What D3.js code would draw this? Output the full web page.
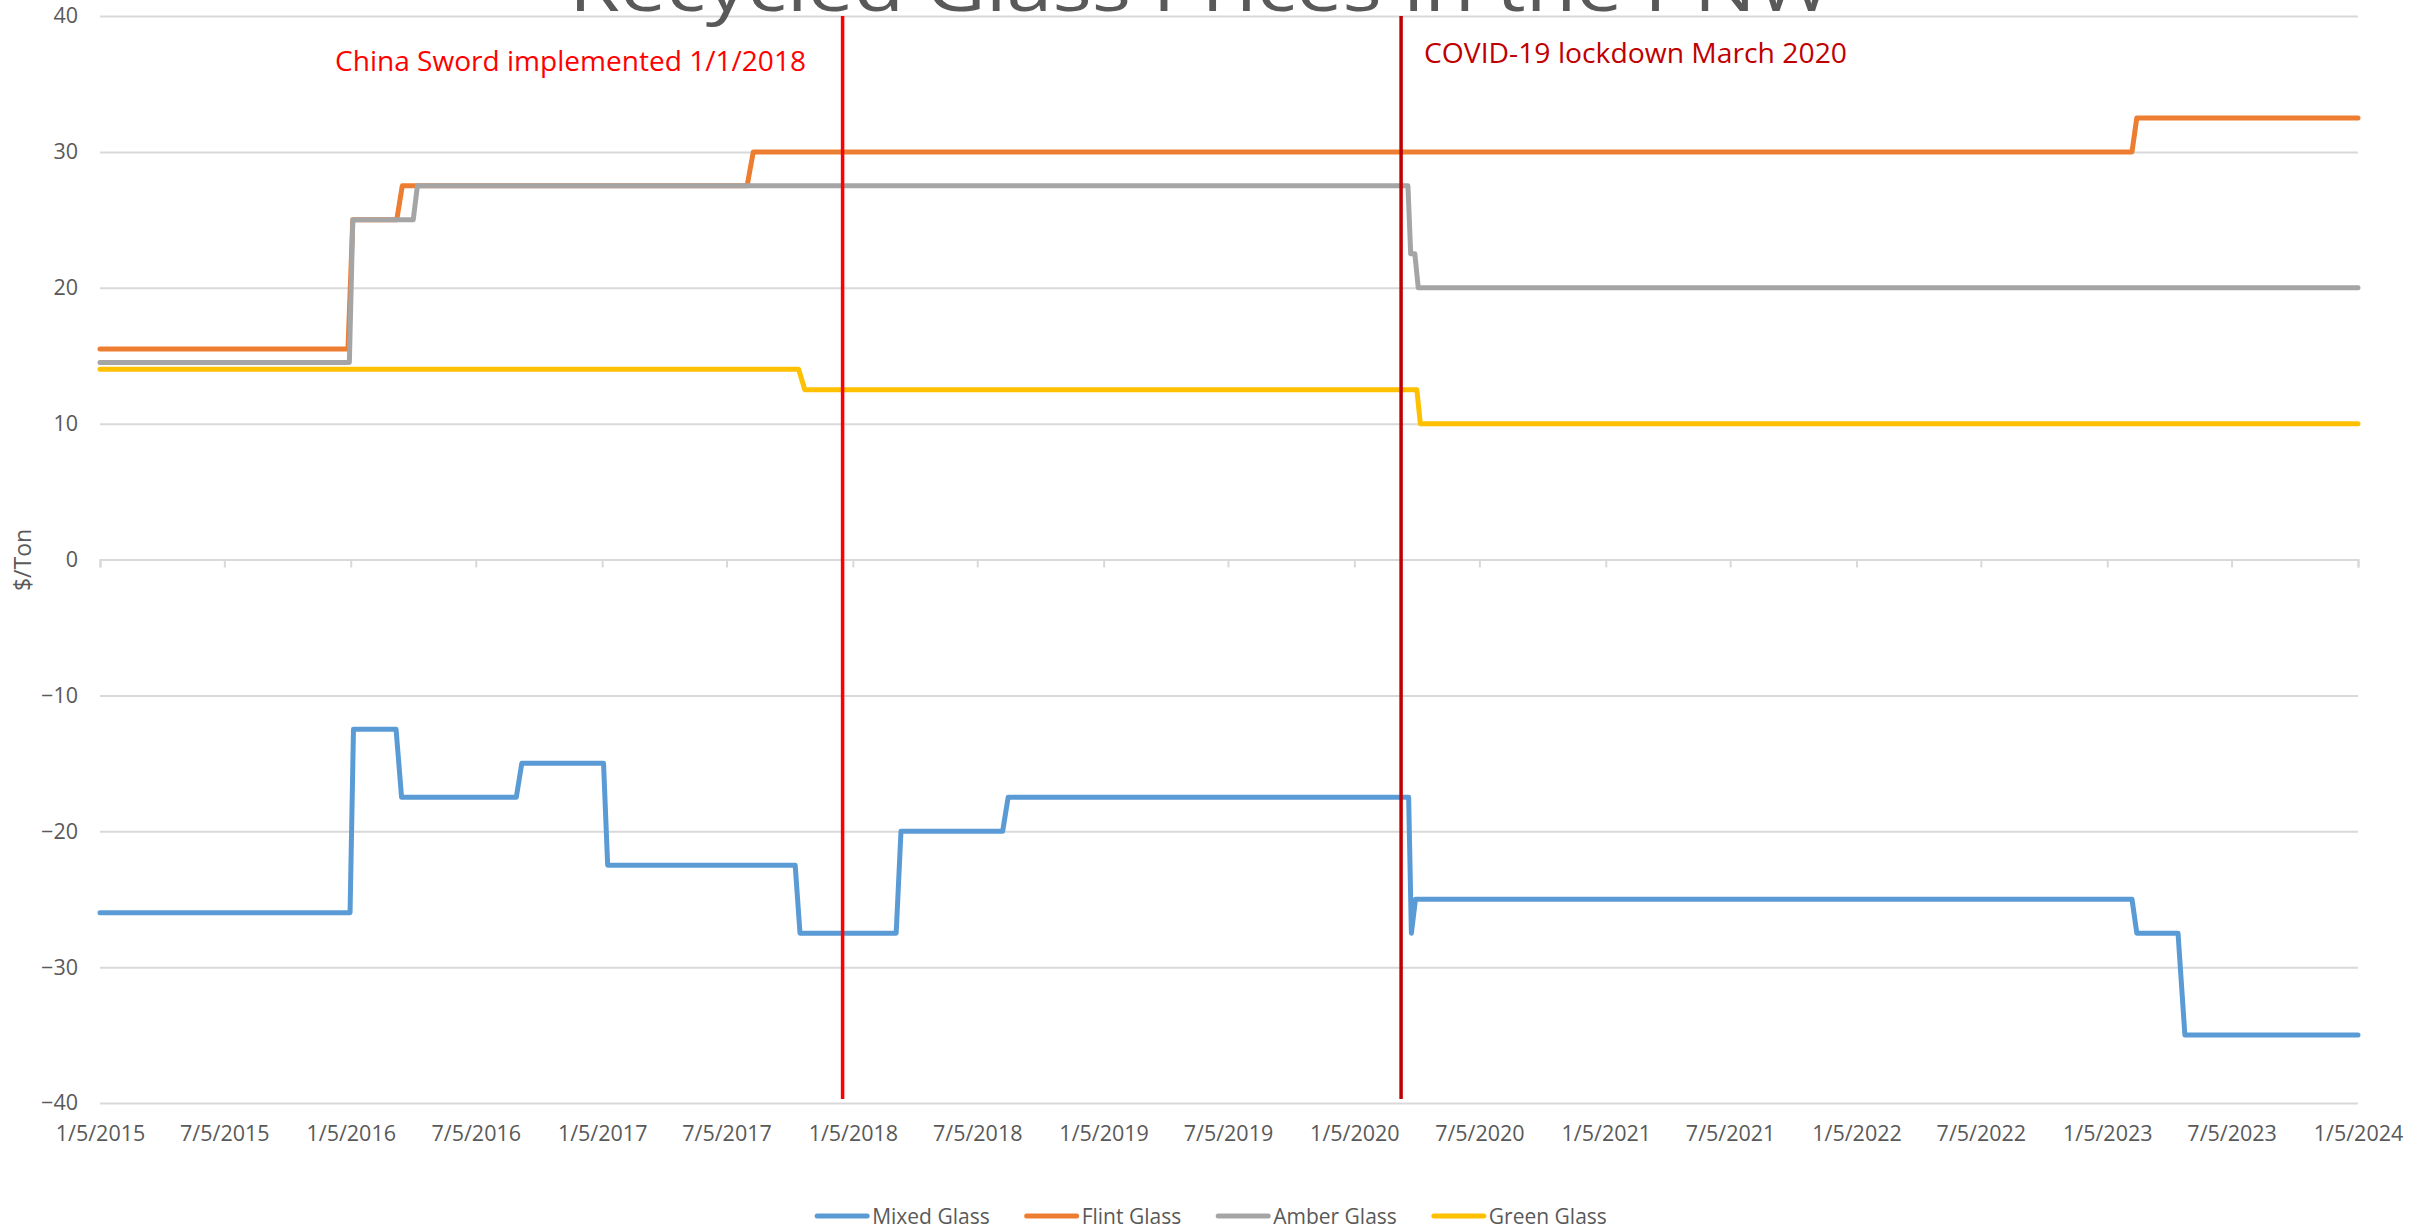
<!DOCTYPE html>
<html>
<head>
<meta charset="utf-8">
<script src="https://cdn.jsdelivr.net/npm/d3@7"></script>
<style>
  html, body { margin: 0; padding: 0; background: #fff; }
  svg { display: block; }
  text { font-family: "Open Sans", "Noto Sans", "DejaVu Sans", sans-serif; }
</style>
</head>
<body>
<script>
// ---------------- data ----------------
const chartTitle = "Recycled Glass Prices in the PNW";
const yAxisTitle = "$/Ton";
const seriesNames = ["Mixed Glass", "Flint Glass", "Amber Glass", "Green Glass"];
const seriesColors = ["#5B9BD5", "#ED7D31", "#A5A5A5", "#FFC000"];

const xTickLabels = ["1/5/2015","7/5/2015","1/5/2016","7/5/2016","1/5/2017","7/5/2017","1/5/2018","7/5/2018",
  "1/5/2019","7/5/2019","1/5/2020","7/5/2020","1/5/2021","7/5/2021","1/5/2022","7/5/2022","1/5/2023","7/5/2023","1/5/2024"];
const yTicks = [-40, -30, -20, -10, 0, 10, 20, 30, 40];

const mixedDates = ["2015-01-05","2016-01-04","2016-01-09","2016-03-11","2016-03-19","2016-09-02","2016-09-10",
  "2017-01-07","2017-01-13","2017-10-13","2017-10-20","2018-03-09","2018-03-16","2018-08-11","2018-08-19",
  "2020-03-24","2020-03-28","2020-04-03","2023-02-10","2023-02-17","2023-04-18","2023-04-28","2024-01-05"];
const mixedValues = [-26,-26,-12.5,-12.5,-17.5,-17.5,-15,-15,-22.5,-22.5,-27.5,-27.5,-20,-20,-17.5,
  -17.5,-27.5,-25,-25,-27.5,-27.5,-35,-35];

const flintDates = ["2015-01-05","2016-01-01","2016-01-08","2016-03-12","2016-03-20","2017-08-04","2017-08-13",
  "2023-02-10","2023-02-17","2024-01-05"];
const flintValues = [15.5,15.5,25,25,27.5,27.5,30,30,32.5,32.5];

const amberDates = ["2015-01-05","2016-01-03","2016-01-08","2016-04-05","2016-04-11","2020-03-23","2020-03-27",
  "2020-04-02","2020-04-07","2024-01-05"];
const amberValues = [14.5,14.5,25,25,27.5,27.5,22.5,22.5,20,20];

const greenDates = ["2015-01-05","2017-10-18","2017-10-27","2020-04-05","2020-04-10","2024-01-05"];
const greenValues = [14,14,12.5,12.5,10,10];

const eventDates = ["2017-12-21", "2020-03-13"];
const eventLabels = ["China Sword implemented 1/1/2018", "COVID-19 lockdown March 2020"];
const eventColors = ["#FF0000", "#C00000"];

// ---------------- layout ----------------
const W = 2431, H = 1228;
const plot = { left: 100, right: 2358, top: 16, bottom: 1103 };

const parseISO = d3.timeParse("%Y-%m-%d");
const parseTick = d3.timeParse("%m/%d/%Y");
const tickDates = xTickLabels.map(parseTick);

const x = d3.scaleTime()
  .domain([tickDates[0], tickDates[tickDates.length - 1]])
  .range([plot.left, plot.right]);
const y = d3.scaleLinear().domain([-40, 40]).range([plot.bottom, plot.top]);

const svg = d3.select("body").append("svg")
  .attr("width", W).attr("height", H).attr("viewBox", `0 0 ${W} ${H}`);
svg.append("rect").attr("width", W).attr("height", H).attr("fill", "#fff");

// gridlines
const yAxisG = svg.append("g").attr("transform", `translate(${plot.left},0)`)
  .call(d3.axisLeft(y).tickValues(yTicks).tickSize(-(plot.right - plot.left)).tickPadding(22).tickFormat(d3.format("d")));
yAxisG.select(".domain").remove();
yAxisG.selectAll(".tick line").attr("stroke", "#D9D9D9").attr("stroke-width", 2);
yAxisG.selectAll(".tick text").attr("fill", "#595959").attr("font-size", 21.5);

// x axis along zero line with ticks pointing down
const xAxisG = svg.append("g").attr("transform", `translate(0,${y(0)})`)
  .call(d3.axisBottom(x).tickValues(tickDates).tickSize(8).tickFormat(""));
xAxisG.select(".domain").attr("stroke", "#D9D9D9").attr("stroke-width", 2);
xAxisG.selectAll(".tick line").attr("stroke", "#D9D9D9").attr("stroke-width", 2);

// x tick labels at the bottom (low position)
const xLabG = svg.append("g").attr("transform", `translate(0,${plot.bottom})`)
  .call(d3.axisBottom(x).tickValues(tickDates).tickSize(0).tickPadding(23)
    .tickFormat((d, i) => xTickLabels[i]));
xLabG.select(".domain").remove();
xLabG.selectAll(".tick text").attr("fill", "#595959").attr("font-size", 21.5);

// series
const series = [
  { name: seriesNames[0], color: seriesColors[0], dates: mixedDates, values: mixedValues },
  { name: seriesNames[1], color: seriesColors[1], dates: flintDates, values: flintValues },
  { name: seriesNames[2], color: seriesColors[2], dates: amberDates, values: amberValues },
  { name: seriesNames[3], color: seriesColors[3], dates: greenDates, values: greenValues }
];
const line = d3.line().x(d => x(d[0])).y(d => y(d[1]));
series.forEach(s => {
  const pts = s.dates.map((d, i) => [parseISO(d), s.values[i]]);
  svg.append("path").datum(pts)
    .attr("d", line)
    .attr("fill", "none")
    .attr("stroke", s.color)
    .attr("stroke-width", 5)
    .attr("stroke-linejoin", "round")
    .attr("stroke-linecap", "round");
});

// event lines
eventDates.forEach((d, i) => {
  const xv = x(parseISO(d));
  svg.append("line")
    .attr("x1", xv).attr("x2", xv)
    .attr("y1", plot.top).attr("y2", plot.bottom - 4)
    .attr("stroke", eventColors[i]).attr("stroke-width", 3.5);
});

// event labels
svg.append("text").text(eventLabels[0])
  .attr("x", 806).attr("y", 71).attr("text-anchor", "end")
  .attr("fill", eventColors[0]).attr("font-size", 27)
  .attr("textLength", 471).attr("lengthAdjust", "spacingAndGlyphs");
svg.append("text").text(eventLabels[1])
  .attr("x", 1424).attr("y", 63).attr("text-anchor", "start")
  .attr("fill", eventColors[1]).attr("font-size", 27)
  .attr("textLength", 423).attr("lengthAdjust", "spacingAndGlyphs");

// title (partly above the top edge, as in the reference)
svg.append("text").text(chartTitle)
  .attr("x", 569).attr("y", 11)
  .attr("fill", "#595959").attr("font-size", 68)
  .attr("textLength", 1263).attr("lengthAdjust", "spacingAndGlyphs");

// y axis title
svg.append("text").text(yAxisTitle)
  .attr("transform", `translate(31,560) rotate(-90)`)
  .attr("text-anchor", "middle")
  .attr("fill", "#595959").attr("font-size", 23);

// legend
const legG = svg.append("g");
let cx = 0;
series.forEach((s, i) => {
  const g = legG.append("g");
  g.append("line").attr("x1", 0).attr("x2", 50).attr("y1", 0).attr("y2", 0)
    .attr("stroke", s.color).attr("stroke-width", 5).attr("stroke-linecap", "round");
  const t = g.append("text").text(s.name).attr("x", 55).attr("y", 7.5)
    .attr("fill", "#595959").attr("font-size", 21);
  const w = 55 + t.node().getComputedTextLength();
  g.attr("transform", `translate(${cx},1216)`);
  cx += w + 37;
});
const totalW = cx - 37;
legG.attr("transform", `translate(${1212 - totalW / 2},0)`);
</script>
</body>
</html>
